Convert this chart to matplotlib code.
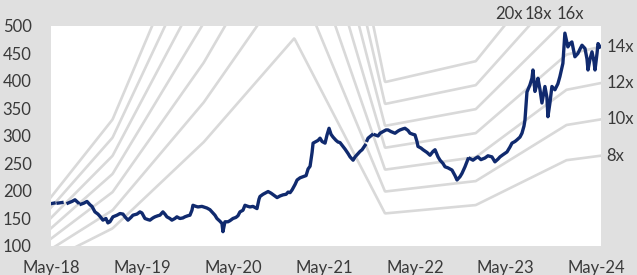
import numpy as np
import pandas as pd
import matplotlib
matplotlib.use("Agg")
import matplotlib.pyplot as plt
import matplotlib.dates as mdates

plt.rcParams['font.family'] = ['Lato', 'DejaVu Sans']

# share price, dates as decimal years (nan = gap in the series)
price_dates = [
    2018.322, 2018.355, 2018.377, 2018.399, 2018.443, 2018.476, 2018.509, 2018.553, 2018.586, 2018.619,
    2018.635, 2018.652, 2018.685, 2018.718, 2018.751, 2018.773, 2018.806, 2018.839, 2018.861, 2018.894,
    2018.927, 2018.949, 2018.971, 2019.004, 2019.049, 2019.082, 2019.115, 2019.137, 2019.170, 2019.203,
    2019.225, 2019.269, 2019.302, 2019.324, 2019.357, 2019.390, 2019.412, 2019.445, 2019.467, 2019.500,
    2019.522, 2019.555, 2019.577, 2019.599, 2019.632, 2019.654, 2019.687, 2019.709, 2019.742, 2019.775,
    2019.797, 2019.830, 2019.853, 2019.875, 2019.886, 2019.919, 2019.941, 2019.985, 2020.040, 2020.073,
    2020.095, 2020.128, 2020.150, 2020.183, 2020.205, 2020.216, 2020.238, 2020.271, 2020.293, 2020.326,
    2020.359, 2020.381, 2020.403, 2020.436, 2020.458, 2020.491, 2020.513, 2020.546, 2020.568, 2020.590,
    2020.612, 2020.623, 2020.656, 2020.690, 2020.712, 2020.745, 2020.778, 2020.811, 2020.844, 2020.877,
    2020.910, 2020.932, 2020.954, 2020.976, 2021.009, 2021.031, 2021.064, 2021.097, 2021.130, 2021.152,
    2021.174, 2021.196, 2021.207, 2021.240, 2021.262, 2021.284, 2021.306, 2021.339, 2021.361, 2021.383,
    2021.405, 2021.427, 2021.460, 2021.482, 2021.504, 2021.537, 2021.560, 2021.593, 2021.615, 2021.648,
    2021.670, 2021.703, 2021.725, 2021.747, 2021.780, 2021.791, 2021.802, 2021.813, 2021.857, 2021.880,
    2021.890, 2021.923, 2021.945, 2021.978, 2022.011, 2022.033, 2022.066, 2022.110, 2022.143, 2022.165,
    2022.198, 2022.220, 2022.253, 2022.275, 2022.308, 2022.330, 2022.352, 2022.363, 2022.397, 2022.419,
    2022.463, 2022.496, 2022.529, 2022.551, 2022.584, 2022.606, 2022.639, 2022.661, 2022.694, 2022.738,
    2022.771, 2022.793, 2022.826, 2022.848, 2022.881, 2022.914, 2022.925, 2022.936, 2022.969, 2023.002,
    2023.024, 2023.057, 2023.101, 2023.134, 2023.178, 2023.211, 2023.245, 2023.267, 2023.300, 2023.344,
    2023.377, 2023.399, 2023.432, 2023.454, 2023.487, 2023.509, 2023.531, 2023.542, 2023.564, 2023.597,
    2023.619, 2023.630, 2023.652, 2023.674, 2023.685, 2023.707, 2023.729, 2023.762, 2023.784, 2023.795,
    2023.817, 2023.839, 2023.872, 2023.905, 2023.927, 2023.960, 2023.982, 2024.004, 2024.015, 2024.037,
    2024.059, 2024.092, 2024.125, 2024.148, 2024.170, 2024.203, 2024.225, 2024.236, 2024.258, 2024.280,
    2024.302, 2024.313, 2024.335, 2024.346, 2024.368,
]
nan = np.nan
prices = [
    177, 178, nan, 178, 179, nan, 178, 181, 184, 179,
    nan, 176, 178, 181, 175, 172, 162, 158, 154, 147,
    150, 142, 144, 153, 156, 159, 158, 153, 147, 152,
    156, 158, 162, 160, 150, 148, 147, 151, 153, 155,
    156, 162, 158, 153, 150, 147, 150, 153, 150, 151,
    153, 155, 156, 165, 174, 172, 171, 172, 169, 166,
    162, 156, 150, 145, 141, 126, 144, 144, 146, 150,
    152, 155, 162, 165, 174, 172, 171, 172, 170, 168,
    185, 190, 194, 197, 199, 196, 192, 188, 191, 193,
    194, 198, 197, 202, 212, 220, 224, 226, 228, 240,
    245, 270, 287, 290, 292, 296, 290, 287, 302, 314,
    303, 298, 292, 289, 288, 281, 276, 268, 262, 256,
    262, 268, 272, 275, 283, nan, 292, 296, 302, nan,
    302, 300, 305, 308, 311, 311, 308, 305, 309, 311,
    313, 314, 310, 305, 303, 302, 290, 281, 278, 275,
    270, 265, 272, 275, 262, 256, 250, 244, 242, 238,
    228, 220, 226, 232, 244, 258, nan, 259, 256, 260,
    262, 257, 260, 264, 262, 253, 258, 262, 266, 271,
    280, 287, 290, 293, 298, 305, 318, 329, 380, 393,
    405, 420, 381, 395, 405, 385, 360, 390, 370, 335,
    360, 390, 384, 395, 408, 432, 487, 470, 462, 468,
    471, 444, 450, 458, 465, 459, 440, 420, 440, 453,
    435, 420, 450, 468, 462,
]

# consensus EPS at the start of each year, linearly blended in between
eps_years = [2018, 2019, 2020, 2021, 2022, 2023, 2024, 2025]
eps_values = [6.1, 16.5, 36.0, 59.7, 19.9, 21.8, 32.0, 34.7]
multiples = [8, 10, 12, 14, 16, 18, 20]

start, end = 2018.322, 2024.379


def to_date(t):
    t = np.atleast_1d(np.asarray(t, dtype=float))
    yr = np.floor(t).astype(int)
    out = []
    for y, f in zip(yr, t - yr):
        d0 = pd.Timestamp(year=int(y), month=1, day=1)
        d1 = pd.Timestamp(year=int(y) + 1, month=1, day=1)
        out.append(d0 + (d1 - d0) * f)
    return pd.DatetimeIndex(out)


fig = plt.figure(figsize=(6.37, 2.75), dpi=100, facecolor='#e0e0e0')
ax = fig.add_axes([0.0801, 0.1055, 0.8634, 0.8])
ax.set_facecolor('white')

grid = np.linspace(start, end, 800)
eps = np.interp(grid, eps_years, eps_values)
gdates = to_date(grid)
for m in multiples:
    ax.plot(gdates, eps * m, color='#d9d9d9', lw=1.9, zorder=1)

ax.plot(to_date(price_dates), prices, color='#102a6e', lw=2.4, zorder=3)

ax.set_ylim(100, 500)
ax.set_yticks(range(100, 501, 50))
ax.set_xlim(to_date(start)[0], to_date(end)[0])
ax.xaxis.set_major_locator(mdates.MonthLocator(bymonth=5, bymonthday=1))
ax.xaxis.set_major_formatter(mdates.DateFormatter('%b-%y'))

for s in ax.spines.values():
    s.set_visible(False)
ax.tick_params(axis='both', length=0, labelsize=12, colors='#3a3a3a')
ax.tick_params(axis='y', pad=14)
ax.tick_params(axis='x', pad=10)

# band labels: low multiples at the right edge, high ones above the top
eps_end = np.interp(end, eps_years, eps_values)
for m in [8, 10, 12, 14]:
    ax.annotate(f'{m}x', xy=(1, eps_end * m), xycoords=('axes fraction', 'data'),
                xytext=(4, 0), textcoords='offset points', ha='left', va='center',
                fontsize=12, color='#3a3a3a', annotation_clip=False)
top_label_pos = {20: 2023.36, 18: 2023.69, 16: 2024.045}
for m, t in top_label_pos.items():
    ax.annotate(f'{m}x', xy=(to_date(t)[0], 500), xytext=(0, 3),
                textcoords='offset points', ha='center', va='bottom',
                fontsize=12, color='#3a3a3a', annotation_clip=False)

fig.savefig('out.png', dpi=100, facecolor=fig.get_facecolor())
